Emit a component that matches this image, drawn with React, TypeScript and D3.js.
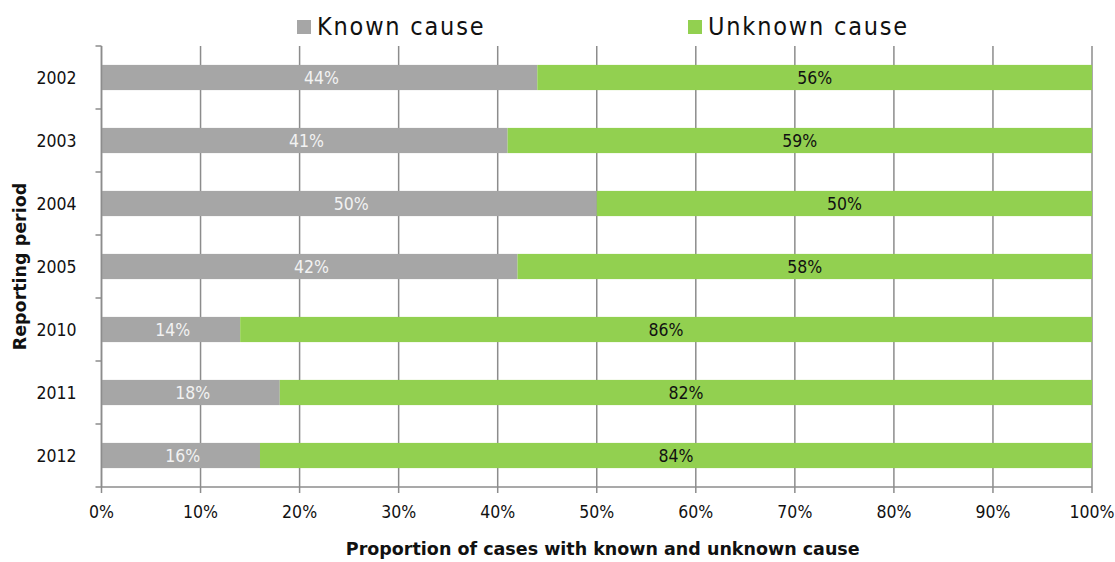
import React from "react";
import * as d3 from "d3";

const years = ["2002", "2003", "2004", "2005", "2010", "2011", "2012"];
const known = [44, 41, 50, 42, 14, 18, 16];
const unknown = [56, 59, 50, 58, 86, 82, 84];
const xTicks = [0, 10, 20, 30, 40, 50, 60, 70, 80, 90, 100];
const seriesNames = ["Known cause", "Unknown cause"];
const seriesColors = ["#a6a6a6", "#92d050"];

const W = 1115;
const H = 562;
const margin = {top: 46, right: 23, bottom: 75, left: 101.5};
const narrow = "'DejaVu Sans Condensed', 'Liberation Sans Narrow', Arial, sans-serif";
const boldFont = "'DejaVu Sans', Verdana, sans-serif";

const App: React.FC = () => {
    const x = d3.scaleLinear().domain([0, 100]).range([margin.left, W - margin.right]);
    const y = d3.scaleBand().domain(years).range([margin.top, H - margin.bottom]).paddingInner(0.6).paddingOuter(0.3);
    const step = y.step();
    const bottom = H - margin.bottom;
    const axisColor = "#8c8c8c";

    return (
        <svg width={W} height={H} style={{position: "absolute", left: 0, top: 0}} fontFamily={narrow}>
            {/* gridlines */}
            {xTicks.map((t) => (
                <line key={t} x1={x(t)} x2={x(t)} y1={margin.top} y2={bottom + 6} stroke={axisColor} strokeWidth={1.5}/>
            ))}
            {/* bars */}
            {years.map((yr, i) => {
                const y0 = y(yr) || 0;
                return (
                    <g key={yr}>
                        <rect x={x(0)} y={y0} width={x(known[i]) - x(0)} height={y.bandwidth()} fill={seriesColors[0]}/>
                        <rect x={x(known[i])} y={y0} width={x(100) - x(known[i])} height={y.bandwidth()} fill={seriesColors[1]}/>
                        <text x={(x(0) + x(known[i])) / 2 + 2} y={y0 + y.bandwidth() / 2} dy="0.35em" textAnchor="middle"
                              fontSize={17.5} fill="#f2f2f2">{known[i]}%</text>
                        <text x={(x(known[i]) + x(100)) / 2} y={y0 + y.bandwidth() / 2} dy="0.35em" textAnchor="middle"
                              fontSize={17.5} fill="#111">{unknown[i]}%</text>
                    </g>
                );
            })}
            {/* left axis */}
            <line x1={x(0)} x2={x(0)} y1={margin.top} y2={bottom} stroke={axisColor} strokeWidth={1.5}/>
            {d3.range(years.length + 1).map((k) => (
                <line key={k} x1={x(0) - 6} x2={x(0)} y1={margin.top + k * step} y2={margin.top + k * step}
                      stroke={axisColor} strokeWidth={1.5}/>
            ))}
            {years.map((yr) => (
                <text key={yr} x={x(0) - 25} y={(y(yr) || 0) + y.bandwidth() / 2} dy="0.35em" textAnchor="end"
                      fontSize={17.5} fill="#111">{yr}</text>
            ))}
            {/* bottom axis */}
            <line x1={x(0)} x2={x(100)} y1={bottom} y2={bottom} stroke={axisColor} strokeWidth={1.5}/>
            {xTicks.map((t) => (
                <text key={t} x={x(t)} y={bottom + 31} textAnchor="middle" fontSize={17.5} fill="#111">{t}%</text>
            ))}
            {/* axis titles */}
            <text x={(x(0) + x(100)) / 2 + 6} y={H - 7} textAnchor="middle" fontSize={17.5} fontWeight="bold"
                  fontFamily={boldFont} fill="#111">
                Proportion of cases with known and unknown cause
            </text>
            <text transform={`translate(26,${(margin.top + bottom) / 2}) rotate(-90)`} textAnchor="middle" fontSize={17.5}
                  fontWeight="bold" fontFamily={boldFont} fill="#111">
                Reporting period
            </text>
            {/* legend */}
            {[297, 688].map((lx, i) => (
                <g key={seriesNames[i]}>
                    <rect x={lx} y={20} width={14} height={14} fill={seriesColors[i]}/>
                    <text x={lx + 20} y={35} fontSize={25} letterSpacing={1.8} fill="#111">{seriesNames[i]}</text>
                </g>
            ))}
        </svg>
    );
};

export default App;
